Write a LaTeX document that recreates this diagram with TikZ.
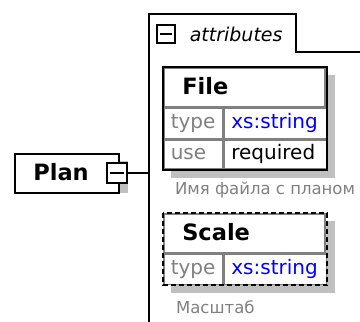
\documentclass[tikz,border=0pt]{standalone}
\usepackage{fontspec}
\setmainfont{DejaVu Sans}
\usetikzlibrary{backgrounds,calc}
\definecolor{frameLine}{HTML}{000000}
\definecolor{cellLine}{HTML}{808080}
\definecolor{keyText}{HTML}{808080}
\definecolor{typeText}{HTML}{0000FF}
\definecolor{shadowFill}{HTML}{C0C0C0}
\newcommand{\celltext}{\fontsize{20}{23}\selectfont}
\newcommand{\headtext}{\fontsize{22.5}{26}\selectfont\bfseries}

\begin{document}
\begin{tikzpicture}[
  x=1pt, y=-1pt,
  line width=1.6pt,
  elem/.style={
    draw=frameLine,
    fill=white,
    anchor=north west,
    minimum height=39pt,
    inner xsep=18.5pt,
    inner ysep=0pt,
    text width=#1,
    align=left,
    text height=16pt,
    text depth=1pt,
    font=\headtext
  },
  cell/.style={
    draw=cellLine,
    fill=white,
    anchor=north west,
    inner xsep=7pt,
    inner ysep=0pt,
    text width=#1,
    align=left,
    text height=14.5pt,
    text depth=4.5pt,
    font=\celltext
  },
  keycell/.style={cell=45pt, minimum height=30pt, text=keyText},
  valcell/.style={cell=88pt, minimum height=30pt},
  button/.style={draw=frameLine, fill=white, minimum size=#1, inner sep=0pt},
  caption/.style={anchor=west, text=keyText, font=\fontsize{16.5}{20}\selectfont},
  shade/.style={fill=shadowFill}
]
\useasboundingbox (0,0) rectangle (360,322);

% attributes container
\coordinate (attrBottom) at (149,322);
\coordinate (attrTopLeft) at (149,14);
\coordinate (attrTopRight) at (296,14);
\coordinate (attrNotch) at (296,52);
\coordinate (attrEnd) at (360,52);
\draw (attrBottom) -- (attrTopLeft) -- (attrTopRight) -- (attrNotch) -- (attrEnd);
\node[button=18pt] (attrBtn) at (166,34) {};
\draw[shorten <=3.5pt, shorten >=3.5pt] (attrBtn.west) -- (attrBtn.east);
\node[anchor=west, inner sep=0pt, font=\fontsize{19}{22}\selectfont\itshape] (attrName) at (189,34) {attributes};

% element Plan
\node[elem=67pt] (plan) at (14,153) {Plan};
\node[button=20pt] (planBtn) at (117,173) {};
\draw[shorten <=4pt, shorten >=4pt] (planBtn.west) -- (planBtn.east);
\draw (planBtn.east) -- (planBtn.east -| attrTopLeft);

% attribute File
\node[elem=124pt, draw=cellLine] (fileHead) at (163,67) {File};
\node[keycell] (fileTypeKey) at (fileHead.south west) {type};
\node[valcell, text=typeText] (fileTypeVal) at (fileTypeKey.north east) {xs:string};
\node[keycell, minimum height=29pt] (fileUseKey) at (fileTypeKey.south west) {use};
\node[valcell, minimum height=29pt] (fileUseVal) at (fileUseKey.north east) {required};
\draw[frameLine] (fileHead.north west) rectangle (fileUseVal.south east);
\node[caption] (fileNote) at (171,190) {Имя файла с планом};

% attribute Scale
\node[elem=124pt, draw=cellLine] (scaleHead) at (163,213) {Scale};
\node[keycell] (scaleTypeKey) at (scaleHead.south west) {type};
\node[valcell, text=typeText] (scaleTypeVal) at (scaleTypeKey.north east) {xs:string};
\draw[frameLine, dash pattern=on 5pt off 3pt] (scaleHead.north west) rectangle (scaleTypeVal.south east);
\node[caption] (scaleNote) at (172,307) {Масштаб};

% shadows
\begin{scope}[on background layer]
\fill[shade] ($(plan.north west)+(8,8)$) rectangle ($(planBtn.south east)+(0,9)$);
\fill[shade] ($(fileHead.north west)+(8,8)$) rectangle ($(fileUseVal.south east)+(8,8)$);
\fill[shade] ($(scaleHead.north west)+(8,8)$) rectangle ($(scaleTypeVal.south east)+(8,8)$);
\end{scope}
\end{tikzpicture}
\end{document}
